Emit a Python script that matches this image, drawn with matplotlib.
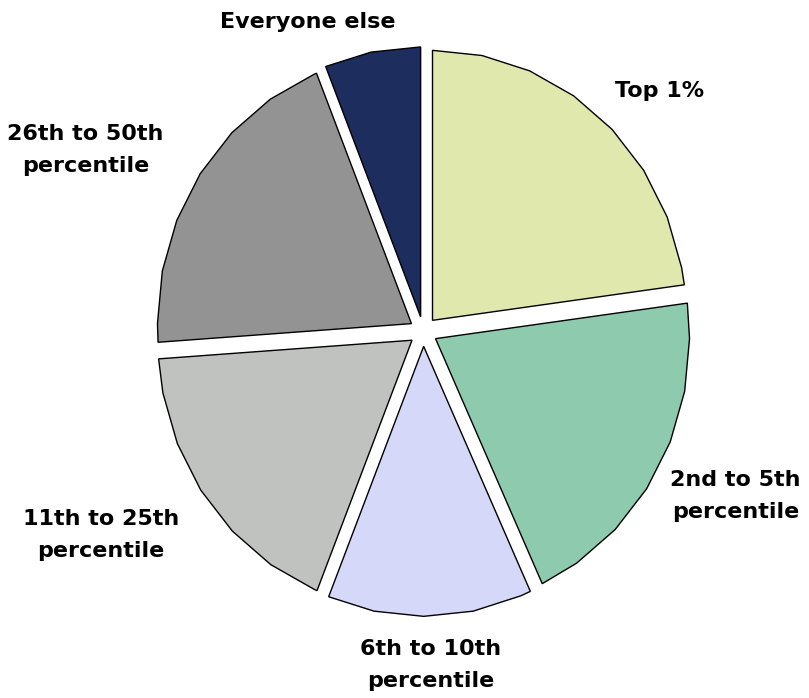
import numpy as np
import matplotlib.pyplot as plt
from matplotlib.patches import Polygon

# share of the total, going clockwise from 12 o'clock
groups = ["Top 1%", "2nd to 5th\npercentile", "6th to 10th\npercentile",
          "11th to 25th\npercentile", "26th to 50th\npercentile", "Everyone else"]
shares = [22.9, 20.2, 13.0, 17.8, 20.0, 6.1]
colors = ["#E1E8AE", "#8DCAAE", "#D6D8FA", "#C0C2C0", "#939393", "#1D2D5D"]

# where each label sits (data units, pie radius = 1)
label_xy = [(0.93, 0.89), (1.23, -0.61), (0.03, -1.235),
            (-1.27, -0.755), (-1.33, 0.672), (-0.455, 1.146)]

fig = plt.figure(figsize=(8.09, 6.98), dpi=100)
ax = fig.add_axes([0, 0, 1, 1])

wedges, _ = ax.pie(shares, colors=colors, startangle=90, counterclock=False,
                   explode=[0.055] * len(shares), radius=1.0)

# redraw every wedge as a coarse polygon (arc vertices every 11.25 deg)
step = 11.25
for w in wedges:
    t1, t2 = w.theta1, w.theta2
    cx, cy = w.center
    angs = [t1] + [a for a in np.arange(np.ceil(t1 / step) * step, t2, step) if a > t1] + [t2]
    angs = np.radians(angs)
    pts = [(cx, cy)] + [(cx + np.cos(a), cy + np.sin(a)) for a in angs]
    poly = Polygon(pts, closed=True, facecolor=w.get_facecolor(),
                   edgecolor="black", linewidth=1.0, joinstyle="miter")
    w.set_visible(False)
    ax.add_patch(poly)

for name, (x, y) in zip(groups, label_xy):
    ax.text(x, y, name, ha="center", va="center", fontsize=16,
            fontweight="bold", linespacing=1.75, family="DejaVu Sans")

# pie is slightly taller than wide
ax.set_aspect("auto")
ax.set_xlim(-423.3 / 254, (809 - 423.3) / 254)
ax.set_ylim(-366.5 / 270, (698 - 366.5) / 270)
ax.axis("off")

fig.savefig("out.png", dpi=100, facecolor="white")
